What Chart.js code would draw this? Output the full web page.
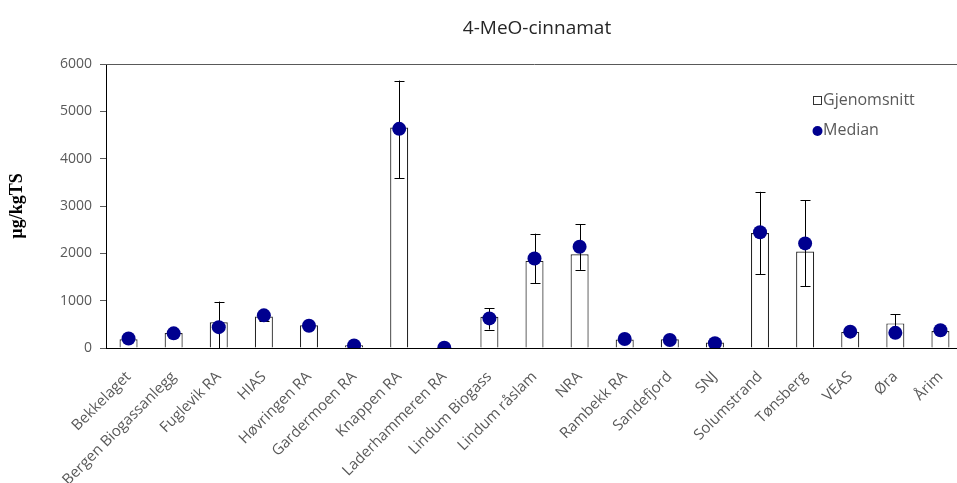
<!DOCTYPE html>
<html>
<head>
<meta charset="utf-8">
<script src="https://cdn.jsdelivr.net/npm/chart.js@4/dist/chart.umd.min.js"></script>
<style>
  html, body { margin: 0; padding: 0; background: #fff; overflow: hidden; }
  #wrap { position: relative; width: 975px; height: 483px; }
</style>
</head>
<body>
<div id="wrap"><canvas id="chart"></canvas></div>
<script>

var stations = ['Bekkelaget', 'Bergen Biogassanlegg', 'Fuglevik RA', 'HIAS', 'Høvringen RA',
  'Gardermoen RA', 'Knappen RA', 'Laderhammeren RA', 'Lindum Biogass', 'Lindum råslam', 'NRA',
  'Rambekk RA', 'Sandefjord', 'SNJ', 'Solumstrand', 'Tønsberg', 'VEAS', 'Øra', 'Årim'];

// gjennomsnitt (mean) and median, µg/kg TS
var mean = [185, 315, 545, 665, 480, 60, 4660, 10, 660, 1840, 1980, 180, 185, 115, 2430, 2040, 340, 520, 360];
var median = [200, 310, 440, 690, 470, 55, 4630, 5, 625, 1890, 2140, 190, 170, 100, 2445, 2210, 345, 320, 375];

// error bar ends (null = none shown)
var errLow = [null, null, 0, 560, null, null, 3590, null, 390, 1370, 1650, null, null, null, 1560, 1300, null, 330, null];
var errHigh = [null, null, 980, 770, null, null, 5650, null, 845, 2415, 2620, null, null, null, 3300, 3120, null, 710, null];

var yTicks = [0, 1000, 2000, 3000, 4000, 5000, 6000];

var txtFont = '"Open Sans", Lato, sans-serif';
var txtColor = '#595959';
var dotColor = '#00008f';

var errorBars = {
  id: 'errorBars',
  afterDatasetDraw: function(chart, args) {
    if (args.index !== 0) return;
    var ctx = chart.ctx;
    var y = chart.scales.y;
    var meta = chart.getDatasetMeta(0);
    ctx.save();
    ctx.beginPath();
    ctx.rect(chart.chartArea.left, chart.chartArea.top, chart.chartArea.right - chart.chartArea.left, chart.chartArea.bottom - chart.chartArea.top);
    ctx.clip();
    ctx.strokeStyle = '#000';
    ctx.lineWidth = 1;
    meta.data.forEach(function(bar, i) {
      if (errHigh[i] == null) return;
      var x = Math.round(bar.x) + 0.5;
      var top = y.getPixelForValue(errHigh[i]);
      var bot = y.getPixelForValue(errLow[i]);
      ctx.beginPath();
      ctx.moveTo(x, top);
      ctx.lineTo(x, bot);
      ctx.moveTo(x - 5, Math.round(top) + 0.5);
      ctx.lineTo(x + 5, Math.round(top) + 0.5);
      if (errLow[i] > 0) {
        ctx.moveTo(x - 5, Math.round(bot) + 0.5);
        ctx.lineTo(x + 5, Math.round(bot) + 0.5);
      }
      ctx.stroke();
    });
    ctx.restore();
  }
};

var frameAndText = {
  id: 'frameAndText',
  afterDraw: function(chart) {
    var ctx = chart.ctx;
    var a = chart.chartArea;
    ctx.save();
    // plot area frame
    ctx.strokeStyle = '#595959';
    ctx.lineWidth = 1;
    ctx.beginPath();
    ctx.moveTo(a.left, Math.round(a.top) + 0.5);
    ctx.lineTo(a.right, Math.round(a.top) + 0.5);
    ctx.stroke();

    // title
    ctx.fillStyle = '#262626';
    ctx.font = '19px ' + txtFont;
    ctx.textAlign = 'center';
    ctx.textBaseline = 'middle';
    ctx.fillText('4-MeO-cinnamat', 537, 29);

    // legend inside plot
    ctx.font = '16px ' + txtFont;
    ctx.textAlign = 'left';
    ctx.fillStyle = '#fff';
    ctx.strokeStyle = '#333';
    ctx.fillRect(813.5, 96.5, 8, 8);
    ctx.strokeRect(813.5, 96.5, 8, 8);
    ctx.fillStyle = txtColor;
    ctx.fillText('Gjenomsnitt', 823, 100);
    ctx.fillStyle = dotColor;
    ctx.beginPath();
    ctx.arc(817.5, 131, 5, 0, Math.PI * 2);
    ctx.fill();
    ctx.fillStyle = txtColor;
    ctx.fillText('Median', 823, 130);
    ctx.restore();
  }
};

new Chart(document.getElementById('chart'), {
  type: 'bar',
  data: {
    labels: stations,
    datasets: [{
      label: 'Gjenomsnitt',
      data: mean,
      backgroundColor: '#ffffff',
      borderColor: '#262626',
      borderWidth: 1.2,
      barPercentage: 0.4,
      categoryPercentage: 1,
      order: 2
    }, {
      type: 'line',
      label: 'Median',
      data: median,
      showLine: false,
      pointRadius: 7,
      pointBackgroundColor: dotColor,
      pointBorderWidth: 0,
      order: 1
    }]
  },
  options: {
    responsive: true,
    maintainAspectRatio: false,
    animation: false,
    layout: { padding: { top: 64, right: 12, left: 0, bottom: 0 } },
    plugins: {
      legend: { display: false },
      title: { display: false },
      tooltip: { enabled: false }
    },
    scales: {
      x: {
        grid: { display: false },
        border: { color: '#000', width: 1 },
        ticks: {
          color: txtColor,
          font: { family: txtFont, size: 15 },
          maxRotation: 45,
          minRotation: 45,
          autoSkip: false,
          padding: 12
        },
        afterFit: function(scale) {
          scale.height = 135;
          scale.paddingLeft = 0;
          scale.paddingRight = 0;
        }
      },
      y: {
        min: 0,
        max: 6000,
        afterBuildTicks: function(scale) {
          scale.ticks = yTicks.map(function(v) { return { value: v }; });
        },
        grid: { drawOnChartArea: false, drawTicks: true, tickLength: 6, color: '#595959' },
        border: { color: '#000', width: 1 },
        ticks: {
          color: txtColor,
          font: { family: txtFont, size: 14 },
          padding: 8,
          callback: function(v) { return String(v); }
        },
        title: {
          display: true,
          text: 'µg/kgTS',
          color: '#000',
          font: { family: '"Liberation Serif", serif', size: 18, weight: 'bold' },
          padding: { top: 7, bottom: 0 }
        },
        afterFit: function(scale) {
          scale.width = 106;
        }
      }
    }
  },
  plugins: [errorBars, frameAndText]
});
</script>
</body>
</html>
